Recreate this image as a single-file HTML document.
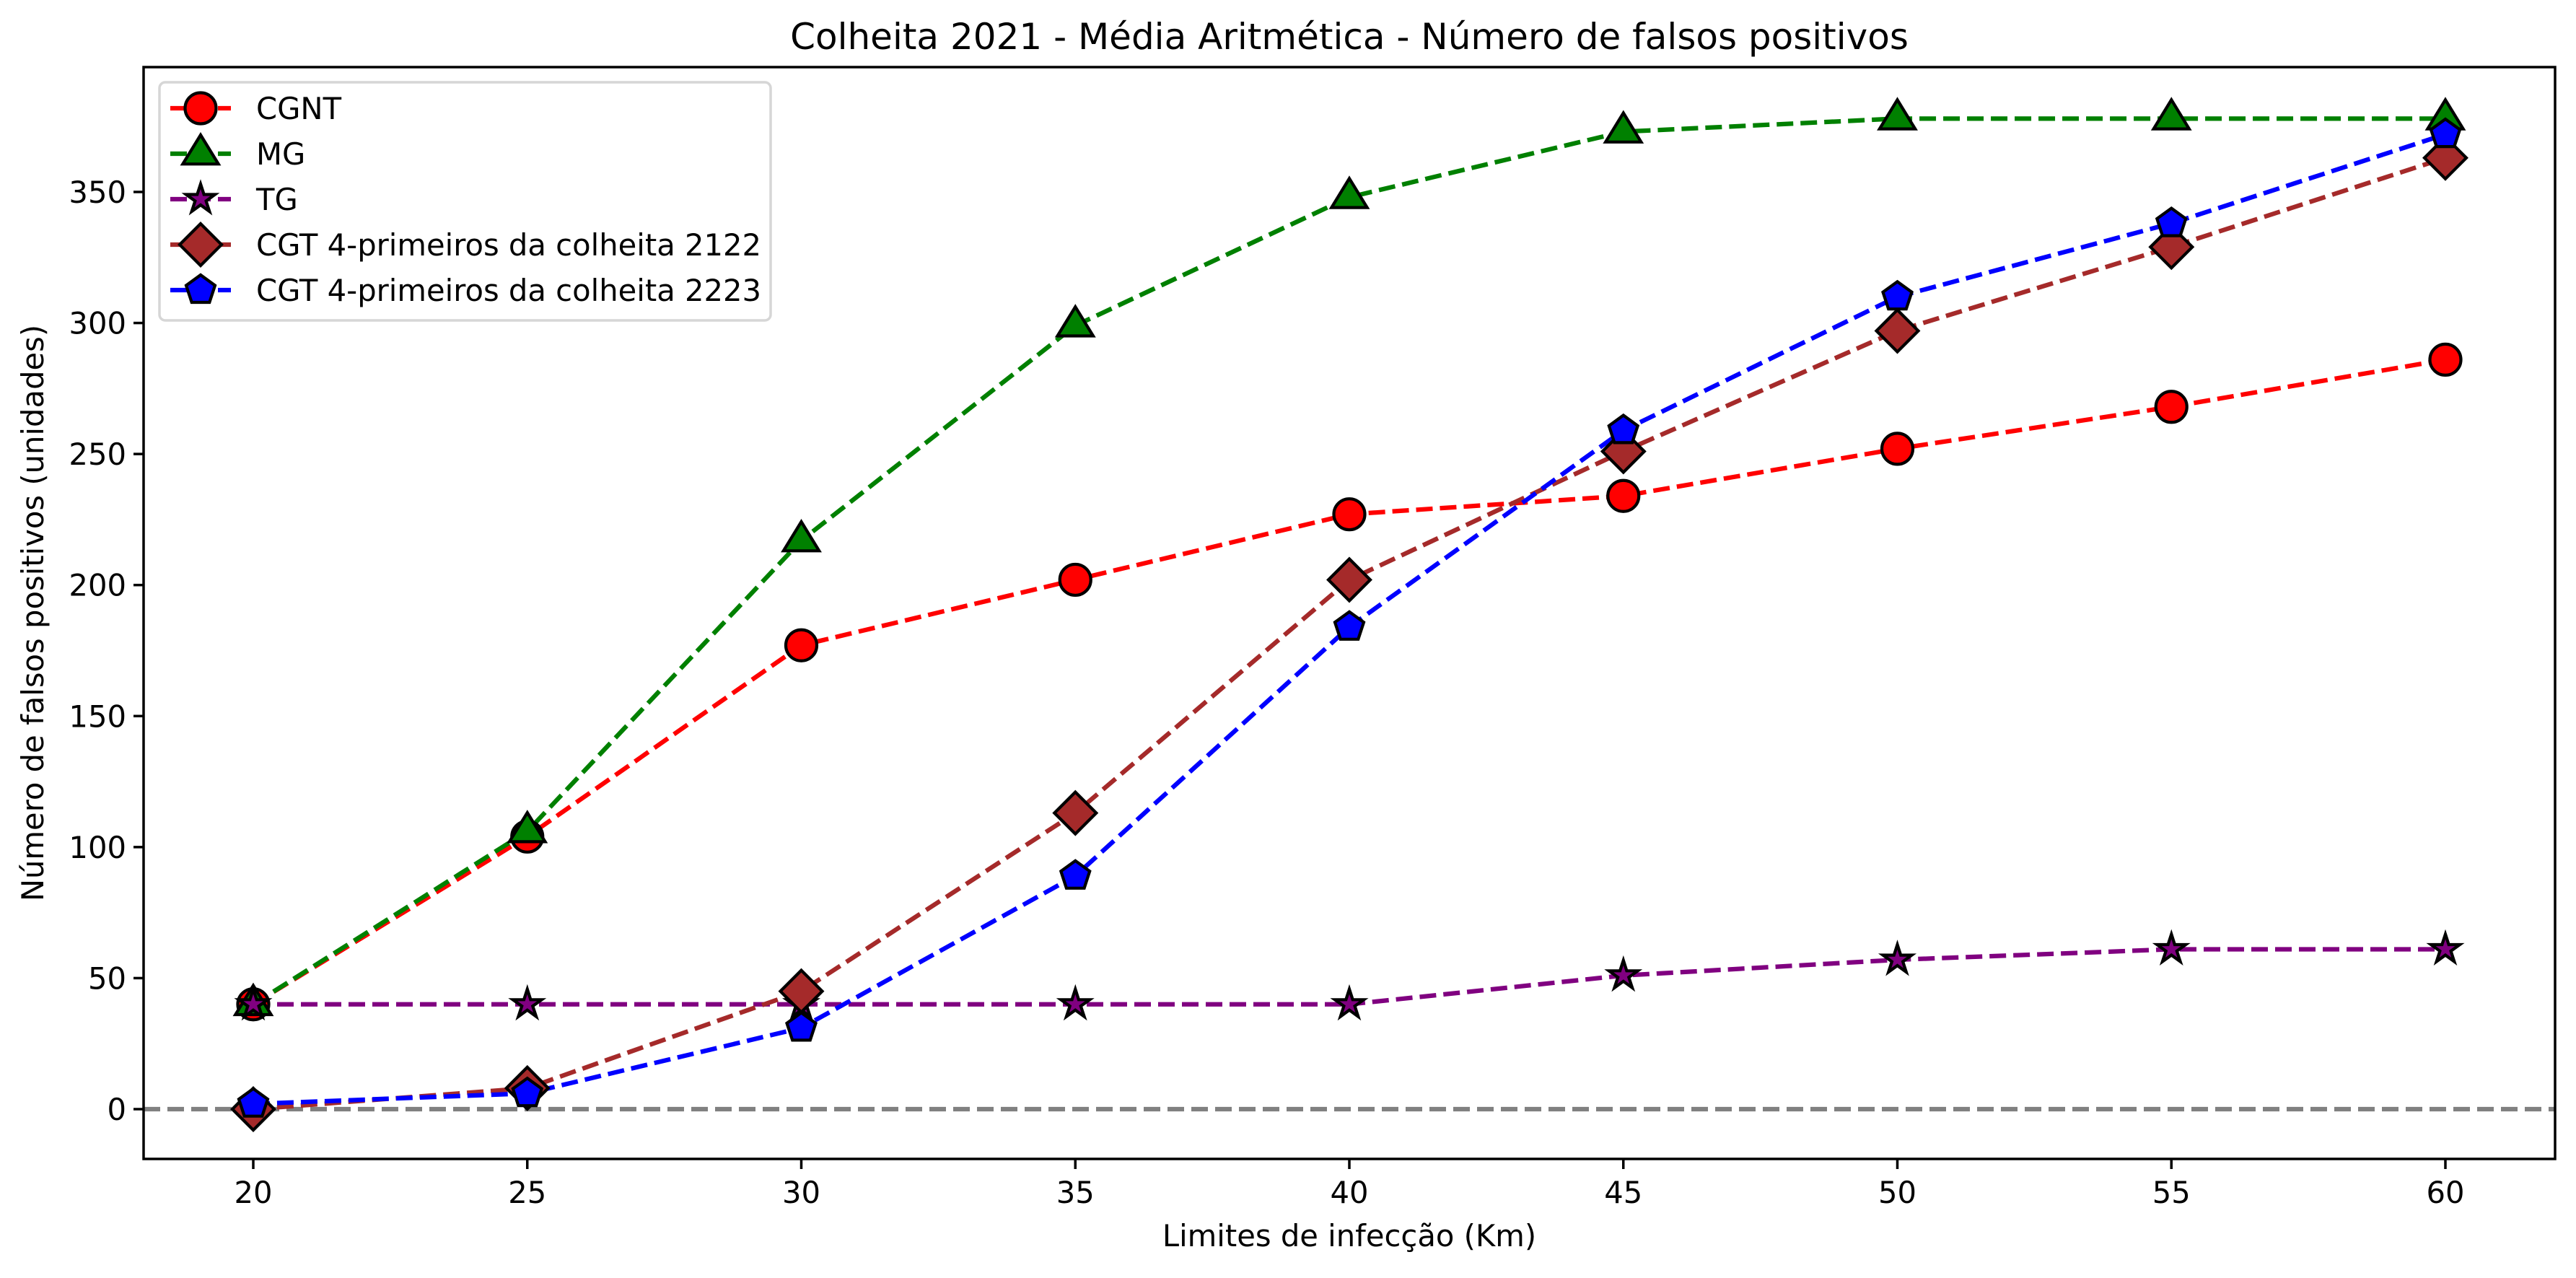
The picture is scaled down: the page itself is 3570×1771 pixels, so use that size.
<!DOCTYPE html>
<html><head><meta charset="utf-8"><style>
body{margin:0;background:#fff}
svg text{font-family:"DejaVu Sans","Liberation Sans",sans-serif;fill:#000}
</style></head><body>
<svg id="chart" width="3570" height="1766" xmlns="http://www.w3.org/2000/svg">
<rect width="3570" height="1766" fill="#fff"/>
<g id="plot"></g>
</svg>
<script>
const xValues=[20,25,30,35,40,45,50,55,60];
const cgnt=[40,104,177,202,227,234,252,268,286];
const mg=[40,106,217,299,348,373,378,378,378];
const tg=[40,40,40,40,40,51,57,61,61];
const cgt2122=[0,8,45,113,202,251,297,329,363];
const cgt2223=[2,6,31,89,184,259,310,338,372];
const xTicks=[20,25,30,35,40,45,50,55,60];
const yTicks=[0,50,100,150,200,250,300,350];

const L=199,R=3541,T=93,B=1606;
const sx=v=>351+(v-20)*(3389-351)/40;
const sy=v=>1537-v*(1537-266)/350;
const NS='http://www.w3.org/2000/svg';
const g=document.getElementById('plot');
function mk(t,a,p){const e=document.createElementNS(NS,t);for(const k in a)e.setAttribute(k,a[k]);(p||g).appendChild(e);return e;}

function markerPath(type,cx,cy){
  if(type==='o')return null;
  let pts=[];
  if(type==='^'){const r=26;pts=[[0,-r],[r*0.95,r*0.55],[-r*0.95,r*0.55]];}
  if(type==='D'){const r=29;pts=[[0,-r],[r,0],[0,r],[-r,0]];}
  if(type==='p'){const r=21;for(let i=0;i<5;i++){const a=-Math.PI/2+i*2*Math.PI/5;pts.push([r*Math.cos(a),r*Math.sin(a)]);}}
  if(type==='*'){const r=21,ri=r*0.38;for(let i=0;i<10;i++){const a=-Math.PI/2+i*Math.PI/5;const rr=i%2?ri:r;pts.push([rr*Math.cos(a),rr*Math.sin(a)]);}}
  return pts.map(p=>(cx+p[0]).toFixed(1)+','+(cy+p[1]).toFixed(1)).join(' ');
}
function drawMarker(type,fill,cx,cy,name){
  let e;
  if(type==='o')e=mk('circle',{cx,cy,r:21.5,fill,stroke:'#000','stroke-width':4.2});
  else e=mk('polygon',{points:markerPath(type,cx,cy),fill,stroke:'#000','stroke-width':4.2,'stroke-linejoin':'miter'});
  
  
}

// zero line
const zl=mk('line',{x1:L,x2:R,y1:sy(0),y2:sy(0),stroke:'#808080','stroke-width':6.25,'stroke-dasharray':'23 10'});



const series=[
 {name:'CGNT',data:cgnt,color:'red',m:'o',fill:'red'},
 {name:'MG',data:mg,color:'green',m:'^',fill:'green'},
 {name:'TG',data:tg,color:'purple',m:'*',fill:'purple'},
 {name:'CGT 4-primeiros da colheita 2122',data:cgt2122,color:'brown',m:'D',fill:'#a52a2a'},
 {name:'CGT 4-primeiros da colheita 2223',data:cgt2223,color:'blue',m:'p',fill:'blue'}
];
series.forEach((s,i)=>{
  const pl=mk('polyline',{points:s.data.map((v,j)=>sx(xValues[j])+','+sy(v)).join(' '),fill:'none',stroke:s.color,'stroke-width':6.25,'stroke-dasharray':'23 10'});
  
  
});
series.forEach((s,i)=>{
  s.data.forEach((v,j)=>drawMarker(s.m,s.fill,sx(xValues[j]),sy(v),'point-'+i+'-'+j));
});

// axes frame
const fr=mk('rect',{x:L,y:T,width:R-L,height:B-T,fill:'none',stroke:'#000','stroke-width':3.5});



xTicks.forEach(v=>{
  mk('line',{x1:sx(v),x2:sx(v),y1:B,y2:B+14,stroke:'#000','stroke-width':3.5});
  const t=mk('text',{x:sx(v),y:1667,'font-size':41.7,'text-anchor':'middle'});t.textContent=v;
  
  
});
yTicks.forEach(v=>{
  mk('line',{x1:L-14,x2:L,y1:sy(v),y2:sy(v),stroke:'#000','stroke-width':3.5});
  const t=mk('text',{x:L-24,y:sy(v)+15,'font-size':41.7,'text-anchor':'end'});t.textContent=v;
  
  
});

let t=mk('text',{x:(L+R)/2,y:68,'font-size':50,'text-anchor':'middle'});t.textContent='Colheita 2021 - Média Aritmética - Número de falsos positivos';


t=mk('text',{x:(L+R)/2,y:1727,'font-size':41.7,'text-anchor':'middle'});t.textContent='Limites de infecção (Km)';


t=mk('text',{x:0,y:0,'font-size':41.7,'text-anchor':'middle',transform:'translate(60,'+((T+B)/2)+') rotate(-90)'});t.textContent='Número de falsos positivos (unidades)';



// legend
const lg=mk('g',{});


mk('rect',{x:221,y:114,width:847,height:330,rx:8,fill:'#fff','fill-opacity':0.8,stroke:'#d6d6d6','stroke-width':3.5},lg);
series.forEach((s,i)=>{
  const y=150+i*63;
  mk('line',{x1:236,x2:320,y1:y,y2:y,stroke:s.color,'stroke-width':6.25,'stroke-dasharray':'23 10'},lg);
  drawMarker(s.m,s.fill,278,y,'legend-marker-'+i);
  const e=mk('text',{x:355,y:y+15,'font-size':41.7},lg);e.textContent=s.name;
  
  
});
</script>
</body></html>
